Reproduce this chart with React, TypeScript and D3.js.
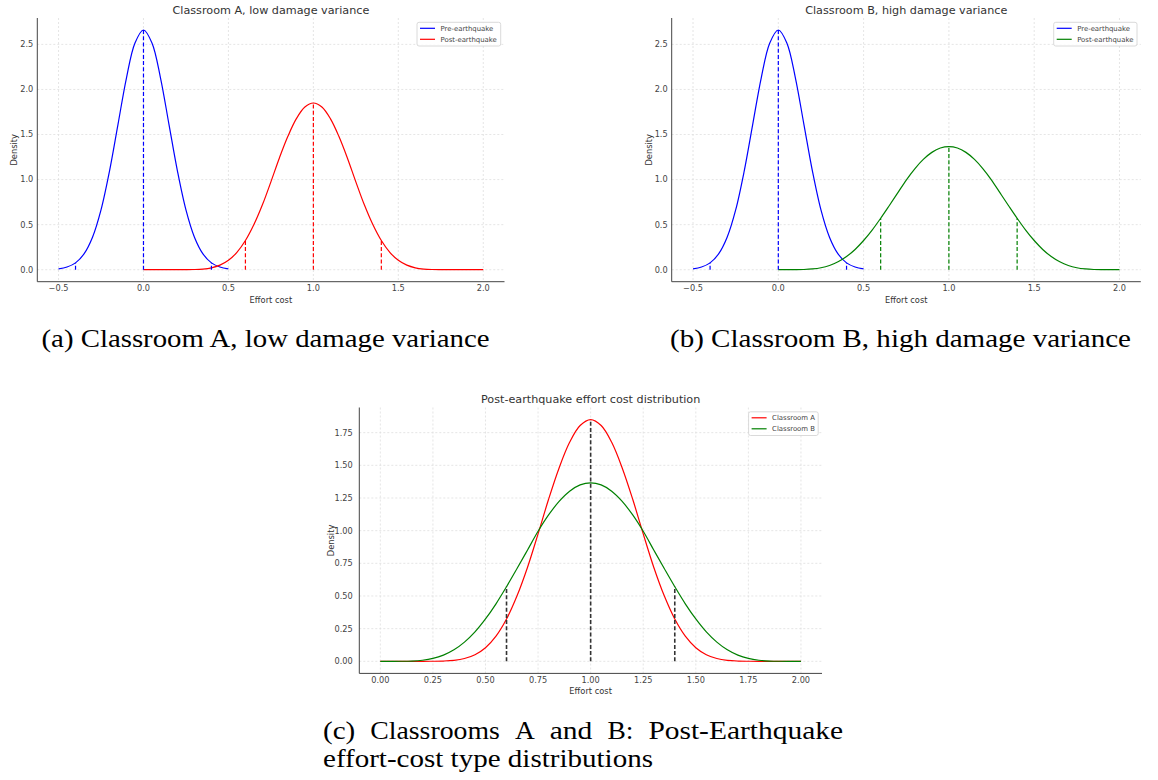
import React from "react";
import * as d3 from "d3";

const FONT = "'DejaVu Sans', sans-serif";
const SERIF = "'Liberation Serif', 'DejaVu Serif', serif";

// x grids of the plotted curves
const preX = [-0.5, -0.45, -0.4, -0.35, -0.3, -0.25, -0.2, -0.15, -0.1, -0.05, 0, 0.05, 0.1, 0.15, 0.2, 0.25, 0.3, 0.35, 0.4, 0.45, 0.5];
const postX = [0, 0.05, 0.1, 0.15, 0.2, 0.25, 0.3, 0.35, 0.4, 0.45, 0.5, 0.55, 0.6, 0.65, 0.7, 0.75, 0.8, 0.85, 0.9, 0.95, 1,
  1.05, 1.1, 1.15, 1.2, 1.25, 1.3, 1.35, 1.4, 1.45, 1.5, 1.55, 1.6, 1.65, 1.7, 1.75, 1.8, 1.85, 1.9, 1.95, 2];

// densities
const preDensity = [0.010, 0.030, 0.076, 0.175, 0.360, 0.663, 1.094, 1.613, 2.130, 2.516, 2.660, 2.516, 2.130, 1.613, 1.094, 0.663, 0.360, 0.175, 0.076, 0.030, 0.010];
const postDensityA = [0, 0, 0, 0, 0.0001, 0.0005, 0.0022, 0.0076, 0.0213, 0.0504, 0.1042, 0.1926, 0.3236, 0.501, 0.720, 0.975, 1.240, 1.480, 1.676, 1.805, 1.850,
  1.805, 1.676, 1.480, 1.240, 0.975, 0.720, 0.501, 0.3236, 0.1926, 0.1042, 0.0504, 0.0213, 0.0076, 0.0022, 0.0005, 0.0001, 0, 0, 0, 0];
const postDensityB = [0, 0, 0.0003, 0.0022, 0.0083, 0.0219, 0.0471, 0.0877, 0.1466, 0.225, 0.324, 0.440, 0.571, 0.710, 0.852, 0.995, 1.120, 1.224, 1.302, 1.350, 1.366,
  1.350, 1.302, 1.224, 1.120, 0.995, 0.852, 0.710, 0.571, 0.440, 0.324, 0.225, 0.1466, 0.0877, 0.0471, 0.0219, 0.0083, 0.0022, 0.0003, 0, 0];

const preMarks = [-0.4, 0, 0.4];
const postMarks = [0.6, 1.0, 1.4];

const xTicksAB = [-0.5, 0, 0.5, 1, 1.5, 2];
const yTicksAB = [0, 0.5, 1, 1.5, 2, 2.5];
const xTicksC = [0, 0.25, 0.5, 0.75, 1, 1.25, 1.5, 1.75, 2];
const yTicksC = [0, 0.25, 0.5, 0.75, 1, 1.25, 1.5, 1.75];

const titles = ["Classroom A, low damage variance", "Classroom B, high damage variance", "Post-earthquake effort cost distribution"];
const legendA = ["Pre-earthquake", "Post-earthquake"];
const legendC = ["Classroom A", "Classroom B"];
const captionA = "(a) Classroom A, low damage variance";
const captionB = "(b) Classroom B, high damage variance";
const captionC1 = ["(c)", "Classrooms", "A", "and", "B:", "Post-Earthquake"];
const captionC2 = "effort-cost type distributions";

const BLUE = "#0000ff";
const RED = "#ff0000";
const GREEN = "#008000";

function valueAt(xs: number[], ys: number[], x: number) {
  const i = xs.findIndex((v) => Math.abs(v - x) < 1e-6);
  return i >= 0 ? ys[i] : 0;
}

type Series = { xs: number[]; ys: number[]; color: string; label: string };
type Mark = { x: number; h: number; color: string; w: number };

type PanelProps = {
  l: number; r: number; t: number; b: number;
  xDomain: [number, number]; yDomain: [number, number];
  xTicks: number[]; yTicks: number[]; fmt: (n: number) => string;
  title: string; series: Series[]; marks: Mark[];
  legendW: number; yGap: number; yLabelX: number;
};

function Panel(p: PanelProps) {
  const x = d3.scaleLinear().domain(p.xDomain).range([p.l, p.r]);
  const y = d3.scaleLinear().domain(p.yDomain).range([p.b, p.t]);
  const line = d3
    .line<[number, number]>()
    .x((d) => x(d[0]))
    .y((d) => y(d[1]))
    .curve(d3.curveCatmullRom.alpha(0.5));
  const lx = p.r - 3.8 - p.legendW;
  const ly = p.t + 4.3;
  const cx = (p.l + p.r) / 2;
  return (
    <g>
      {p.xTicks.map((v) => (
        <line key={"gx" + v} x1={x(v)} x2={x(v)} y1={p.t} y2={p.b} stroke="#dedede" strokeWidth={0.8} strokeDasharray="2,2" />
      ))}
      {p.yTicks.map((v) => (
        <line key={"gy" + v} x1={p.l} x2={p.r} y1={y(v)} y2={y(v)} stroke="#dedede" strokeWidth={0.8} strokeDasharray="2,2" />
      ))}
      {p.series.map((s, i) => (
        <path key={"s" + i} d={line(s.xs.map((v, j) => [v, s.ys[j]] as [number, number])) || ""} fill="none" stroke={s.color} strokeWidth={1.2} />
      ))}
      {p.marks.map((m, i) => (
        <line key={"m" + i} x1={x(m.x)} x2={x(m.x)} y1={y(0)} y2={y(m.h)} stroke={m.color} strokeWidth={m.w} strokeDasharray="4,2.2" />
      ))}
      <line x1={p.l} x2={p.l} y1={p.t} y2={p.b} stroke="#444" strokeWidth={1} />
      <line x1={p.l} x2={p.r} y1={p.b} y2={p.b} stroke="#444" strokeWidth={1} />
      {p.xTicks.map((v) => (
        <text key={"tx" + v} x={x(v)} y={p.b + 9.6} fontSize={8.2} fill="#444" textAnchor="middle" fontFamily={FONT}>
          {p.fmt(v)}
        </text>
      ))}
      {p.yTicks.map((v) => (
        <text key={"ty" + v} x={p.l - p.yGap} y={y(v) + 2.9} fontSize={8.2} fill="#444" textAnchor="end" fontFamily={FONT}>
          {p.fmt(v)}
        </text>
      ))}
      <text x={cx} y={p.t - 4.5} fontSize={11.2} fill="#333" textAnchor="middle" fontFamily={FONT}>
        {p.title}
      </text>
      <text x={cx} y={p.b + 20.9} fontSize={8.3} fill="#333" textAnchor="middle" fontFamily={FONT}>
        Effort cost
      </text>
      <text
        x={0}
        y={0}
        transform={`translate(${p.yLabelX},${(p.t + p.b) / 2}) rotate(-90)`}
        fontSize={8.3}
        fill="#333"
        textAnchor="middle"
        dominantBaseline="central"
        fontFamily={FONT}
      >
        Density
      </text>
      <rect x={lx} y={ly} width={p.legendW} height={23.7} rx={2} fill="#fff" fillOpacity={0.85} stroke="#d0d0d0" strokeWidth={0.8} />
      {p.series.map((s, i) => (
        <g key={"lg" + i}>
          <line x1={lx + 3} x2={lx + 18} y1={ly + 6 + i * 11} y2={ly + 6 + i * 11} stroke={s.color} strokeWidth={1.2} />
          <text x={lx + 23.5} y={ly + 6 + i * 11 + 2.4} fontSize={6.9} fill="#444" fontFamily={FONT}>
            {s.label}
          </text>
        </g>
      ))}
    </g>
  );
}

// word layout of the justified caption line (start x, width)
const c1Layout: [number, number][] = [
  [323, 32.3],
  [370.3, 129.5],
  [514.9, 19.8],
  [549.7, 42.6],
  [607.4, 26.0],
  [648.4, 194.6],
];

export default function App() {
  const f1 = d3.format(".1f");
  const f2 = d3.format(".2f");
  const preMarkList = (c: string): Mark[] => preMarks.map((m) => ({ x: m, h: valueAt(preX, preDensity, m), color: c, w: 1.2 }));
  const postMarkList = (ys: number[], c: string): Mark[] => postMarks.map((m) => ({ x: m, h: valueAt(postX, ys, m), color: c, w: 1.2 }));
  const cMarks: Mark[] = postMarks.map((m) => ({
    x: m,
    h: Math.max(valueAt(postX, postDensityA, m), valueAt(postX, postDensityB, m)),
    color: "#333",
    w: 1.6,
  }));
  const abX: [number, number] = [-0.625, 2.125];
  const abY: [number, number] = [-0.133, 2.793];
  const capSize = 25;
  return (
    <svg width={1158} height={780} style={{ position: "absolute", left: 0, top: 0, background: "#fff" }}>
      <rect x={0} y={0} width={1158} height={780} fill="#fff" />
      <Panel
        l={37.3} r={504.5} t={18} b={281.7}
        xDomain={abX} yDomain={abY} xTicks={xTicksAB} yTicks={yTicksAB} fmt={f1}
        title={titles[0]}
        series={[
          { xs: preX, ys: preDensity, color: BLUE, label: legendA[0] },
          { xs: postX, ys: postDensityA, color: RED, label: legendA[1] },
        ]}
        marks={[...preMarkList(BLUE), ...postMarkList(postDensityA, RED)]}
        legendW={83.7} yGap={4} yLabelX={14}
      />
      <Panel
        l={671.7} r={1140.8} t={18} b={281.7}
        xDomain={abX} yDomain={abY} xTicks={xTicksAB} yTicks={yTicksAB} fmt={f1}
        title={titles[1]}
        series={[
          { xs: preX, ys: preDensity, color: BLUE, label: legendA[0] },
          { xs: postX, ys: postDensityB, color: GREEN, label: legendA[1] },
        ]}
        marks={[...preMarkList(BLUE), ...postMarkList(postDensityB, GREEN)]}
        legendW={83.3} yGap={4} yLabelX={649.3}
      />
      <Panel
        l={359.3} r={822} t={407.5} b={673.4}
        xDomain={[-0.1, 2.1]} yDomain={[-0.0925, 1.9425]} xTicks={xTicksC} yTicks={yTicksC} fmt={f2}
        title={titles[2]}
        series={[
          { xs: postX, ys: postDensityA, color: RED, label: legendC[0] },
          { xs: postX, ys: postDensityB, color: GREEN, label: legendC[1] },
        ]}
        marks={cMarks}
        legendW={69.6} yGap={6.5} yLabelX={330.7}
      />
      <text x={41.5} y={347} fontSize={capSize} fontFamily={SERIF} fill="#000" textLength={448} lengthAdjust="spacingAndGlyphs">
        {captionA}
      </text>
      <text x={670} y={347} fontSize={capSize} fontFamily={SERIF} fill="#000" textLength={461} lengthAdjust="spacingAndGlyphs">
        {captionB}
      </text>
      {captionC1.map((w, i) => (
        <text key={"c1" + i} x={c1Layout[i][0]} y={739} fontSize={capSize} fontFamily={SERIF} fill="#000" textLength={c1Layout[i][1]} lengthAdjust="spacingAndGlyphs">
          {w}
        </text>
      ))}
      <text x={323} y={767} fontSize={capSize} fontFamily={SERIF} fill="#000" textLength={330} lengthAdjust="spacingAndGlyphs">
        {captionC2}
      </text>
    </svg>
  );
}
